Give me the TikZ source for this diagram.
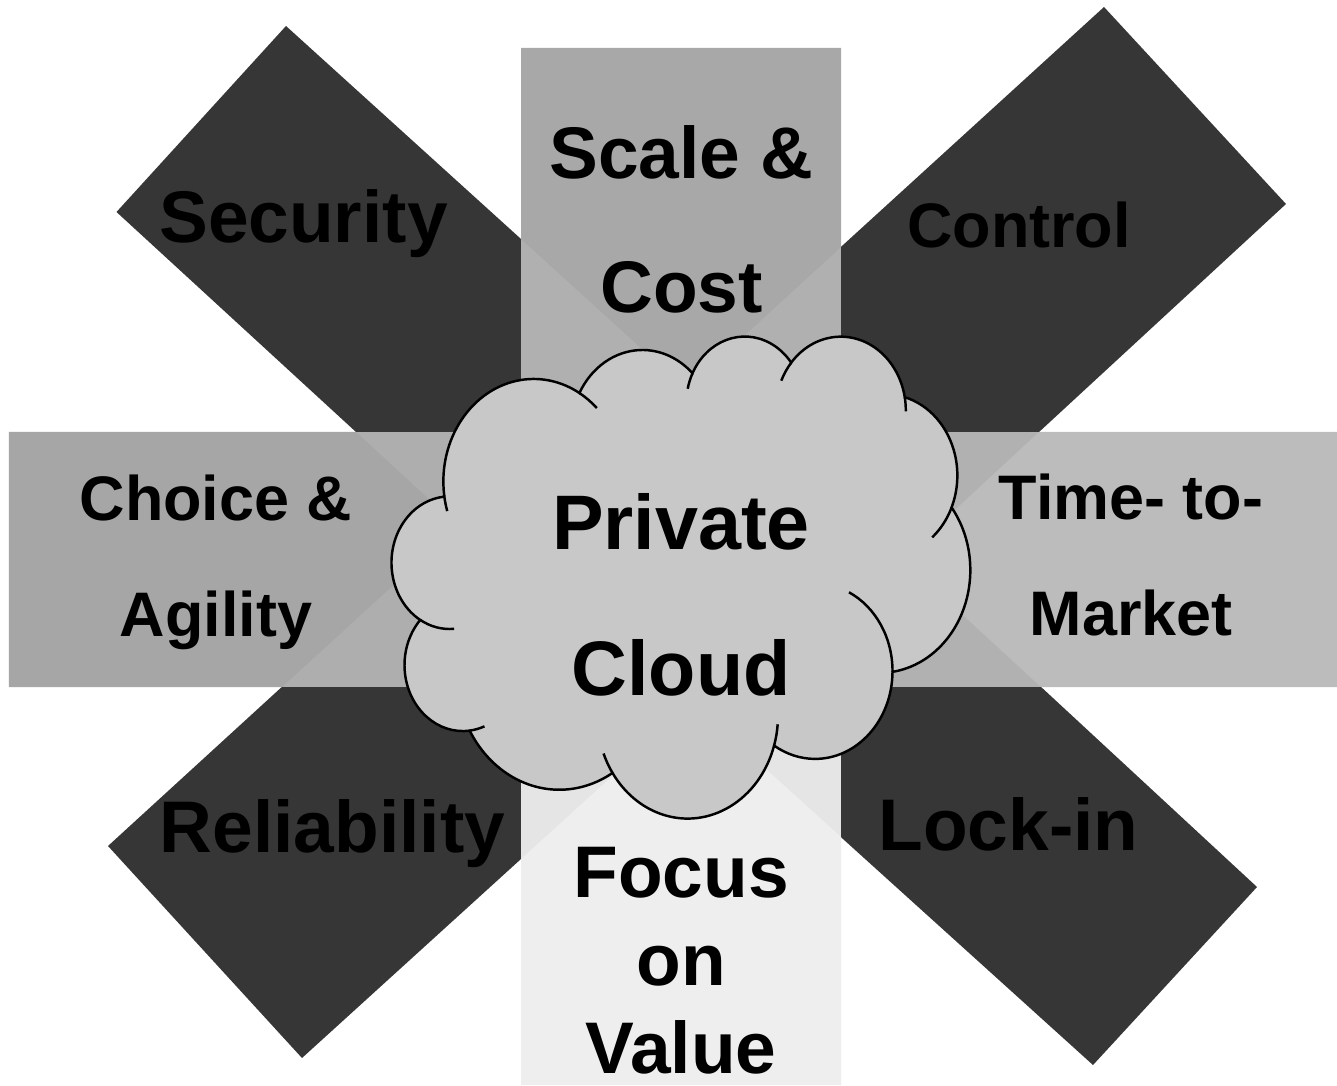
\documentclass[tikz,border=0pt]{standalone}
\usepackage{fontspec}
\setmainfont{Liberation Sans}
\usepackage{tikz}
\definecolor{armDark}{HTML}{363636}
\definecolor{armTop}{HTML}{A8A8A8}
\definecolor{armTopSide}{HTML}{B0B0B0}
\definecolor{armLeft}{HTML}{A6A6A6}
\definecolor{armLeftSide}{HTML}{AEAEAE}
\definecolor{armRight}{HTML}{BCBCBC}
\definecolor{armRightSide}{HTML}{B1B1B1}
\definecolor{armBottom}{HTML}{EEEEEE}
\definecolor{armBottomSide}{HTML}{E5E5E5}
\definecolor{cloudFill}{HTML}{C8C8C8}
\newcommand{\armFont}[2]{\fontsize{#1}{#2}\selectfont\bfseries}

\begin{document}
\begin{tikzpicture}[armtext/.style={align=center, anchor=base, inner sep=0pt, text=black},
                    cloudline/.style={draw=black, line width=0.7pt}]
         \useasboundingbox (0,0) rectangle (13.37,10.85);
         \fill[white] (0,0) rectangle (13.37,10.85);

         % dark diagonal arms
         \fill[armDark] (2.86,10.59) -- (7.56,6.33) -- (5.955,4.33) -- (1.165,8.73) -- cycle;
         \fill[armDark] (11.04,10.78) -- (6.04,6.22) -- (8.17,4.48) -- (12.86,8.81) -- cycle;
         \fill[armDark] (1.08,2.39) -- (5.08,6.05) -- (8.06,4.85) -- (3.02,0.27) -- cycle;
         \fill[armDark] (12.57,1.98) -- (7.82,6.38) -- (6.14,4.53) -- (10.93,0.20) -- cycle;

         % grey arms
         \fill[armTopSide] (5.21,5.09) rectangle (8.41,10.37);
         \fill[armTop] (5.21,10.37) -- (8.41,10.37) -- (8.41,8.38) -- (6.86,6.96) -- (5.21,8.46) -- cycle;
         \fill[armLeftSide] (0.09,3.98) rectangle (6.81,6.53);
         \fill[armLeft] (0.09,6.53) -- (3.56,6.53) -- (4.58,5.59) -- (2.82,3.98) -- (0.09,3.98) -- cycle;
         \fill[armRightSide] (6.81,3.98) rectangle (13.37,6.53);
         \fill[armRight] (13.37,6.53) -- (10.39,6.53) -- (9.02,5.26) -- (10.41,3.98) -- (13.37,3.98) -- cycle;
         \fill[armBottomSide] (5.21,0) rectangle (8.41,5.09);
         \fill[armBottom] (5.21,0) -- (8.41,0) -- (8.41,2.48) -- (6.93,3.82) -- (5.21,2.26) -- cycle;

         % the cloud
         \begin{scope}[shift={(3.92,7.50)}, x=0.01338cm, y=-0.011157cm]
            \draw[cloudline, fill=cloudFill] (39.00,143.70)
               arc[start angle=-187.75, delta angle=128.11, x radius=67.53, y radius=91.90]
               arc[start angle=-152.02, delta angle=106.56, x radius=53.33, y radius=72.67]
               arc[start angle=-153.49, delta angle=116.16, x radius=43.65, y radius=59.45]
               arc[start angle=-139.70, delta angle=129.49, x radius=48.57, y radius=65.95]
               arc[start angle=-74.77, delta angle=97.98, x radius=53.33, y radius=72.73]
               arc[start angle=-37.52, delta angle=119.38, x radius=67.75, y radius=92.20]
               arc[start angle=0.46, delta angle=121.52, x radius=57.85, y radius=78.67]
               arc[start angle=16.85, delta angle=129.38, x radius=67.52, y radius=92.15]
               arc[start angle=58.98, delta angle=91.21, x radius=77.20, y radius=105.43]
               arc[start angle=-276.69, delta angle=139.80, x radius=43.60, y radius=59.18]
               arc[start angle=-239.65, delta angle=143.76, x radius=43.45, y radius=59.45]
               -- cycle;
            \draw[cloudline] (46.43,263.43) arc[start angle=85.55, delta angle=34.80, x radius=43.45, y radius=59.45];
            \draw[cloudline] (69.09,350.87) arc[start angle=68.23, delta angle=15.08, x radius=43.60, y radius=59.18];
            \draw[cloudline] (164.77,392.64) arc[start angle=146.23, delta angle=12.24, x radius=67.52, y radius=92.15];
            \draw[cloudline] (288.20,349.03) arc[start angle=4.74, delta angle=12.11, x radius=67.52, y radius=92.15];
            \draw[cloudline] (341.51,230.68) arc[start angle=-64.03, delta angle=64.49, x radius=57.85, y radius=78.67];
            \draw[cloudline] (418.18,154.62) arc[start angle=23.21, delta angle=26.43, x radius=53.33, y radius=72.73];
            \draw[cloudline] (383.17,55.78) arc[start angle=-10.21, delta angle=11.03, x radius=48.57, y radius=65.95];
            \draw[cloudline] (290.90,40.95) arc[start angle=-156.29, delta angle=16.59, x radius=48.57, y radius=65.95];
            \draw[cloudline] (220.97,48.21) arc[start angle=-167.72, delta angle=14.23, x radius=43.65, y radius=59.45];
            \draw[cloudline] (140.05,52.02) arc[start angle=-59.64, delta angle=13.91, x radius=67.53, y radius=91.90];
            \draw[cloudline] (41.26,157.87) arc[start angle=163.20, delta angle=9.05, x radius=67.53, y radius=91.90];
         \end{scope}

         % base anchor of a two-line text is its last line
         \node[armtext, font=\armFont{20.8}{38.4}] (scaleCost) at (6.815,7.72) {Scale \&\\Cost};
         \node[armtext, font=\armFont{20.8}{25}] (security) at (3.035,8.42) {Security};
         \node[armtext, font=\armFont{17.9}{21}] (control) at (10.19,8.37) {Control};
         \node[armtext, font=\armFont{17.9}{33}] (choiceAgility) at (2.16,4.49) {Choice \&\\Agility};
         \node[armtext, font=\armFont{17.9}{33}] (timeMarket) at (11.31,4.50) {Time- to-\\Market};
         \node[armtext, font=\armFont{22}{41.3}] (privateCloud) at (6.81,3.90) {Private\\Cloud};
         \node[armtext, font=\armFont{20.8}{25}] (reliability) at (3.325,2.33) {Reliability};
         \node[armtext, font=\armFont{20.8}{25}] (lockIn) at (10.085,2.35) {Lock-in};
         \node[armtext, font=\armFont{20.8}{25}] (focusValue) at (6.81,0.12) {Focus\\on\\Value};
      \end{tikzpicture}
\end{document}
